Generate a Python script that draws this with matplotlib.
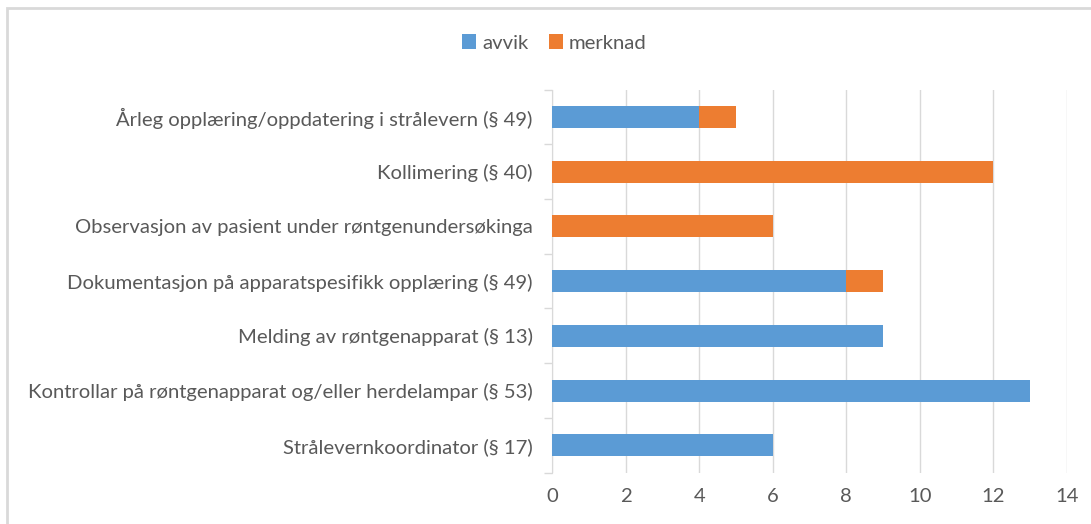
import matplotlib.pyplot as plt
from matplotlib.patches import Rectangle
import numpy as np

plt.rcParams['font.family'] = ['Lato', 'DejaVu Sans']

categories = [
    "Årleg opplæring/oppdatering i strålevern (§ 49)",
    "Kollimering (§ 40)",
    "Observasjon av pasient under røntgenundersøkinga",
    "Dokumentasjon på apparatspesifikk opplæring (§ 49)",
    "Melding av røntgenapparat (§ 13)",
    "Kontrollar på røntgenapparat og/eller herdelampar (§ 53)",
    "Strålevernkoordinator (§ 17)",
]
avvik = [4, 0, 0, 8, 9, 13, 6]
merknad = [1, 12, 6, 1, 0, 0, 0]
xticks = [0, 2, 4, 6, 8, 10, 12, 14]

blue = "#5b9bd5"
orange = "#ed7d31"
grey_txt = "#595959"
grid_col = "#d9d9d9"
fs = 14.6

fig = plt.figure(figsize=(10.91, 5.24), dpi=100)
ax = fig.add_axes([0.506, 0.098, 0.472, 0.731])

y = np.arange(len(categories))
ax.barh(y, avvik, height=0.4, color=blue, label="avvik", zorder=3)
ax.barh(y, merknad, left=avvik, height=0.4, color=orange, label="merknad", zorder=3)

ax.set_ylim(len(categories) - 0.5, -0.5)
ax.set_xlim(0, 14)
ax.set_xticks(xticks)
ax.set_yticks(y)
ax.set_yticklabels(categories, fontsize=fs, color=grey_txt)
ax.tick_params(axis='x', length=0, labelsize=fs, labelcolor=grey_txt, pad=11)
ax.tick_params(axis='y', length=0, pad=14)
ax.set_yticks(np.arange(-0.5, len(categories), 1), minor=True)
ax.tick_params(axis='y', which='minor', length=6, color=grid_col, width=1)
ax.grid(axis='x', color=grid_col, linewidth=1, zorder=0)

for s in ['top', 'right', 'bottom']:
    ax.spines[s].set_visible(False)
ax.spines['left'].set_color(grid_col)

leg = fig.legend(loc='center', bbox_to_anchor=(0.508, 0.918), ncol=2, frameon=False,
                 fontsize=fs, handlelength=0.7, handleheight=0.7, columnspacing=1.0,
                 handletextpad=0.3)
for t in leg.get_texts():
    t.set_color(grey_txt)

# chart frame
fig.patches.append(Rectangle((7 / 1091, -0.1), 1.2, 1 - 8 / 524 + 0.1, transform=fig.transFigure,
                             fill=False, edgecolor=grid_col, linewidth=2))

fig.savefig("out.png", dpi=100)
